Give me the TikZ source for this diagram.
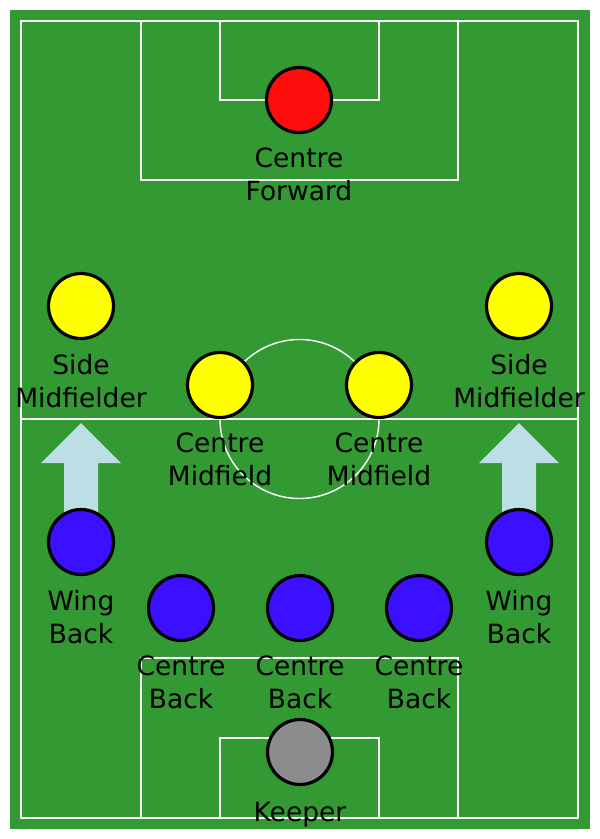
\documentclass[tikz,border=0pt]{standalone}
\usepackage{fontspec}
\setmainfont{DejaVu Sans}
\definecolor{pitch}{HTML}{339933}
\definecolor{fwd}{HTML}{FF0D0D}
\definecolor{mid}{HTML}{FFFF00}
\definecolor{def}{HTML}{3A10FF}
\definecolor{gk}{HTML}{8C8C8C}
\definecolor{arr}{HTML}{BBDFE4}
\begin{document}
\begin{tikzpicture}[x=1pt,y=-1pt,
  fieldline/.style={draw=white,line width=1.4pt},
  player/.style={circle,draw=black,line width=3.2pt,minimum size=65pt,inner sep=0pt},
  lbl/.style={font=\fontsize{26.5}{33}\selectfont,align=center,inner sep=0pt,text=black},
  push/.style={fill=arr,draw=none}]
\useasboundingbox (0,0) rectangle (600,839);
\fill[white] (0,0) rectangle (600,839);
\fill[pitch] (9.5,10) rectangle (589.5,828.5);
% field markings
\draw[fieldline] (21,21) rectangle (578,818);
\draw[fieldline] (141,21) rectangle (458,180);
\draw[fieldline] (220,21) rectangle (379,100);
\draw[fieldline] (141,818) rectangle (458,658);
\draw[fieldline] (220,818) rectangle (379,738);
\draw[fieldline] (21,419) -- (578,419);
\draw[fieldline] (299.5,419) circle[radius=79.5];
% arrows
\fill[push] (81,423) -- (121,463) -- (98,463) -- (98,525) -- (64,525) -- (64,463) -- (41,463) -- cycle;
\fill[push] (519,423) -- (559,463) -- (536,463) -- (536,525) -- (502,525) -- (502,463) -- (479,463) -- cycle;
% players
\node[player,fill=fwd] (cf) at (299,100) {};
\node[player,fill=mid] (lm) at (81,306) {};
\node[player,fill=mid] (rm) at (519,306) {};
\node[player,fill=mid] (lcm) at (220,385) {};
\node[player,fill=mid] (rcm) at (379,385) {};
\node[player,fill=def] (lwb) at (81,542) {};
\node[player,fill=def] (rwb) at (519,542) {};
\node[player,fill=def] (lcb) at (181,608) {};
\node[player,fill=def] (ccb) at (300,608) {};
\node[player,fill=def] (rcb) at (419,608) {};
\node[player,fill=gk] (gk) at (300,752) {};
% labels
\node[lbl,anchor=north] (cfl) at ([yshift=-14pt]cf.south) {Centre\\Forward};
\node[lbl,anchor=north] (lml) at ([yshift=-14pt]lm.south) {Side\\Midfielder};
\node[lbl,anchor=north] (rml) at ([yshift=-14pt]rm.south) {Side\\Midfielder};
\node[lbl,anchor=north] (lcml) at ([yshift=-14pt]lcm.south) {Centre\\Midfield};
\node[lbl,anchor=north] (rcml) at ([yshift=-14pt]rcm.south) {Centre\\Midfield};
\node[lbl,anchor=north] (lwbl) at ([yshift=-14pt]lwb.south) {Wing\\Back};
\node[lbl,anchor=north] (rwbl) at ([yshift=-14pt]rwb.south) {Wing\\Back};
\node[lbl,anchor=north] (lcbl) at ([yshift=-14pt]lcb.south) {Centre\\Back};
\node[lbl,anchor=north] (ccbl) at ([yshift=-14pt]ccb.south) {Centre\\Back};
\node[lbl,anchor=north] (rcbl) at ([yshift=-14pt]rcb.south) {Centre\\Back};
\node[lbl,anchor=north] (gkl) at ([yshift=-15.5pt]gk.south) {Keeper};
\end{tikzpicture}
\end{document}
